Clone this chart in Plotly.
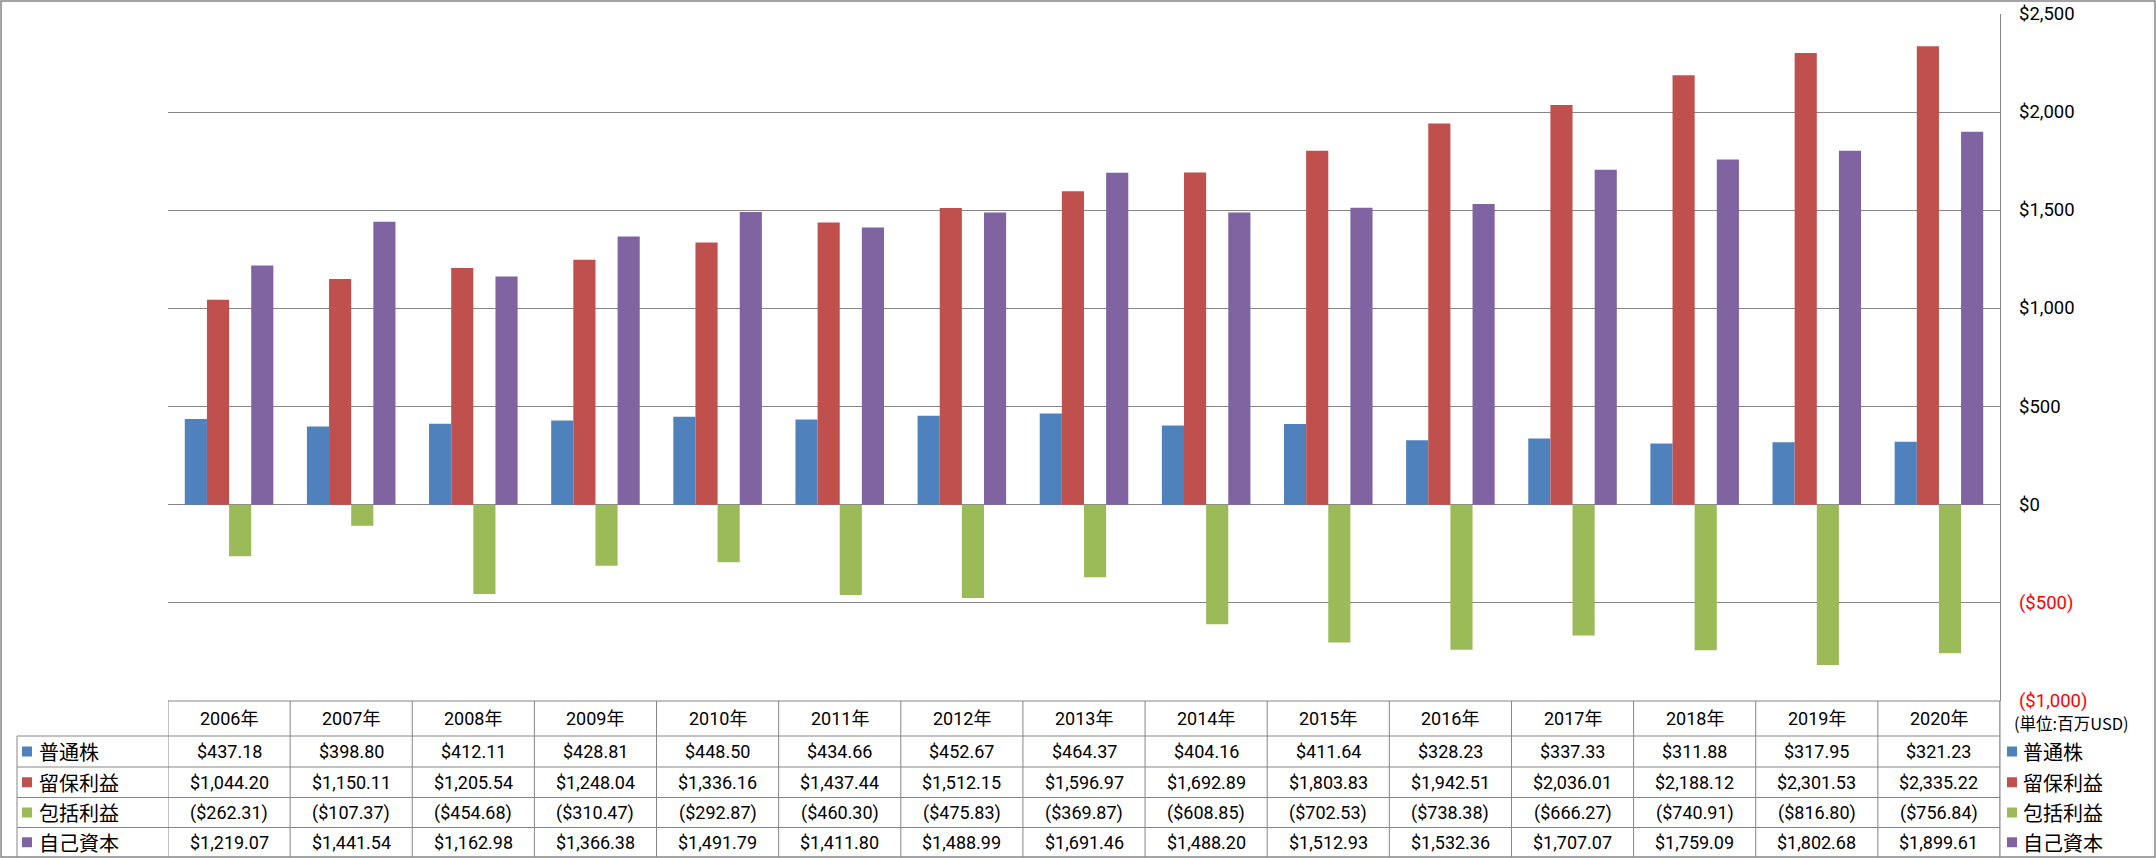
import plotly.graph_objects as go

# ---------------- data ----------------
years = ["2006年", "2007年", "2008年", "2009年", "2010年", "2011年", "2012年", "2013年",
         "2014年", "2015年", "2016年", "2017年", "2018年", "2019年", "2020年"]
series_names = ["普通株", "留保利益", "包括利益", "自己資本"]
common_stock = [437.18, 398.80, 412.11, 428.81, 448.50, 434.66, 452.67, 464.37,
                404.16, 411.64, 328.23, 337.33, 311.88, 317.95, 321.23]
retained_earnings = [1044.20, 1150.11, 1205.54, 1248.04, 1336.16, 1437.44, 1512.15, 1596.97,
                     1692.89, 1803.83, 1942.51, 2036.01, 2188.12, 2301.53, 2335.22]
comprehensive_income = [-262.31, -107.37, -454.68, -310.47, -292.87, -460.30, -475.83, -369.87,
                        -608.85, -702.53, -738.38, -666.27, -740.91, -816.80, -756.84]
equity = [1219.07, 1441.54, 1162.98, 1366.38, 1491.79, 1411.80, 1488.99, 1691.46,
          1488.20, 1512.93, 1532.36, 1707.07, 1759.09, 1802.68, 1899.61]
y_ticks = [2500, 2000, 1500, 1000, 500, 0, -500, -1000]
unit_label = "(単位:百万USD)"

series_values = [common_stock, retained_earnings, comprehensive_income, equity]
colors = ["#4F81BD", "#C0504D", "#9BBB59", "#8064A2"]

# ---------------- geometry ----------------
W, H = 2156, 858
L, R, T, B = 168, 156, 14, 157
PW = W - L - R
PH = H - T - B
PLOT_BOTTOM = H - B
GRID = "#868686"
NUM_FONT = "Roboto, 'Noto Sans CJK JP', sans-serif"
JP_FONT = "'Noto Sans CJK JP', sans-serif"


def px2x(px):
    return (px - L) / PW


def py2y(py):
    return (PLOT_BOTTOM - py) / PH


def money(v, ticks=False):
    s = f"${abs(v):,.0f}" if ticks else f"${abs(v):,.2f}"
    return f"({s})" if v < 0 else s


fig = go.Figure()
for name, vals, col in zip(series_names, series_values, colors):
    fig.add_trace(go.Bar(x=years, y=vals, name=name, marker=dict(color=col, line=dict(width=0)),
                         hoverinfo="skip"))

shapes = []
annotations = []

# table rows (pixel positions)
row_lines = [701, 736, 767, 797.5, 827.5, 857]
n = len(years)

# vertical table lines at category boundaries
for i in range(n + 1):
    shapes.append(dict(type="line", xref="x", yref="paper", x0=i - 0.5, x1=i - 0.5,
                       y0=py2y(701), y1=py2y(857), line=dict(color=GRID, width=1)))
# legend column left line
shapes.append(dict(type="line", xref="paper", yref="paper", x0=px2x(17), x1=px2x(17),
                   y0=py2y(736), y1=py2y(857), line=dict(color=GRID, width=1)))
# horizontal table lines
shapes.append(dict(type="line", xref="paper", yref="paper", x0=0, x1=1,
                   y0=py2y(701), y1=py2y(701), line=dict(color=GRID, width=1)))
for py in row_lines[1:-1]:
    shapes.append(dict(type="line", xref="paper", yref="paper", x0=px2x(17), x1=1,
                       y0=py2y(py), y1=py2y(py), line=dict(color=GRID, width=1)))
# outer border
shapes.append(dict(type="rect", xref="paper", yref="paper", x0=px2x(1), x1=px2x(2155),
                   y0=py2y(857), y1=py2y(1), line=dict(color=GRID, width=1.5)))

# header
for yr in years:
    annotations.append(dict(x=yr, xref="x", y=py2y((701 + 736) / 2), yref="paper", text=yr,
                            showarrow=False, xanchor="center", yanchor="middle",
                            font=dict(family=NUM_FONT, size=18, color="#000")))
# data rows
for r, (name, vals, col) in enumerate(zip(series_names, series_values, colors)):
    yc = (row_lines[r + 1] + row_lines[r + 2]) / 2
    for yr, v in zip(years, vals):
        annotations.append(dict(x=yr, xref="x", y=py2y(yc), yref="paper", text=money(v),
                                showarrow=False, xanchor="center", yanchor="middle",
                                font=dict(family=NUM_FONT, size=18, color="#000")))
    # table legend key
    shapes.append(dict(type="rect", xref="paper", yref="paper", x0=px2x(22), x1=px2x(32),
                       y0=py2y(yc + 5), y1=py2y(yc - 5), fillcolor=col, line=dict(width=0)))
    annotations.append(dict(x=px2x(37), xref="paper", y=py2y(yc), yref="paper", text=name,
                            showarrow=False, xanchor="left", yanchor="middle",
                            font=dict(family=JP_FONT, size=20, color="#000")))
    # right legend
    shapes.append(dict(type="rect", xref="paper", yref="paper", x0=px2x(2007), x1=px2x(2017),
                       y0=py2y(yc + 5), y1=py2y(yc - 5), fillcolor=col, line=dict(width=0)))
    annotations.append(dict(x=px2x(2021), xref="paper", y=py2y(yc), yref="paper", text=name,
                            showarrow=False, xanchor="left", yanchor="middle",
                            font=dict(family=JP_FONT, size=20, color="#000")))

# right axis line extension through the table
shapes.append(dict(type="line", xref="paper", yref="paper", x0=1, x1=1,
                   y0=py2y(701), y1=py2y(857), line=dict(color=GRID, width=1)))

# y tick labels
for t in y_ticks:
    annotations.append(dict(x=px2x(2017), xref="paper", y=t, yref="y", text=money(t, ticks=True),
                            showarrow=False, xanchor="left", yanchor="middle",
                            font=dict(family=NUM_FONT, size=18.5, color="#FF0000" if t < 0 else "#000")))

annotations.append(dict(x=px2x(2012), xref="paper", y=py2y(723), yref="paper", text=unit_label,
                        showarrow=False, xanchor="left", yanchor="middle",
                        font=dict(family=JP_FONT, size=16.5, color="#000")))

fig.update_layout(
    width=W, height=H,
    margin=dict(l=L, r=R, t=T, b=B, pad=0),
    paper_bgcolor="#FFFFFF", plot_bgcolor="#FFFFFF",
    barmode="group", bargap=0.275, bargroupgap=0,
    showlegend=False,
    xaxis=dict(type="category", showticklabels=False, showgrid=False, zeroline=False,
               showline=False, ticks="", range=[-0.5, n - 0.5], fixedrange=True),
    yaxis=dict(side="right", range=[-1000, 2500], dtick=500, tick0=0, showgrid=True,
               gridcolor=GRID, gridwidth=1, zeroline=True, zerolinecolor=GRID, zerolinewidth=1,
               showline=True, linecolor=GRID, linewidth=1, showticklabels=False, ticks="",
               fixedrange=True),
    shapes=shapes,
    annotations=annotations,
)

fig.write_html("out.html", config={"displayModeBar": False},
               post_script="document.body.style.margin='0';document.body.style.overflow='hidden';")
